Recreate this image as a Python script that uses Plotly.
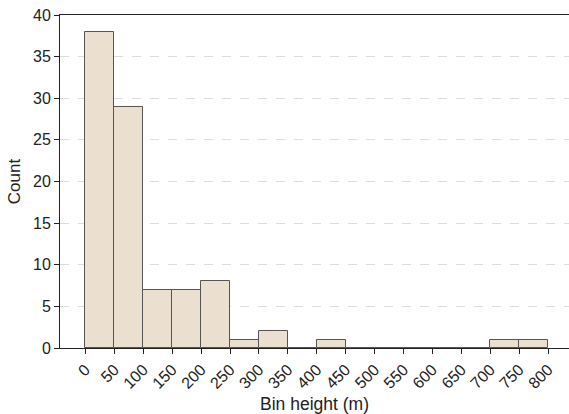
import plotly.graph_objects as go

bin_left = [0, 50, 100, 150, 200, 250, 300, 350, 400, 450, 500, 550, 600, 650, 700, 750]
counts = [38, 29, 7, 7, 8, 1, 2, 0, 1, 0, 0, 0, 0, 0, 1, 1]
bin_width = 50
x_ticks = list(range(0, 801, 50))
y_ticks = [0, 5, 10, 15, 20, 25, 30, 35, 40]

centers = [b + bin_width / 2 for b in bin_left]

fig = go.Figure(go.Bar(
    x=centers, y=counts, width=[bin_width] * len(counts),
    marker=dict(color="#EBE0D0", line=dict(color="#555555", width=1)),
))

fig.update_layout(
    width=569, height=414,
    margin=dict(l=60, r=0, t=15, b=66, autoexpand=False),
    plot_bgcolor="white", paper_bgcolor="white",
    font=dict(family="Liberation Sans, Arial, sans-serif", size=16, color="#222222"),
    showlegend=False, bargap=0,
)
fig.update_xaxes(
    range=[-44, 836], tickvals=x_ticks, ticktext=[str(t) for t in x_ticks],
    tickangle=-45, ticks="outside", ticklen=5, tickcolor="#222222",
    showline=True, linecolor="#222222", linewidth=1, mirror=True,
    showgrid=False, zeroline=False, automargin=False,
    title=dict(text="Bin height (m)", font=dict(size=17.5), standoff=10),
)
fig.update_yaxes(
    range=[0, 40], tickvals=y_ticks, ticks="outside", ticklen=5, tickcolor="#222222",
    showline=True, linecolor="#222222", linewidth=1,
    showgrid=True, gridcolor="#dddddd", griddash="dash", gridwidth=1,
    zeroline=False, automargin=False,
    title=dict(text="Count", font=dict(size=17), standoff=8),
)

fig.write_html(
    "out.html",
    config={"displayModeBar": False},
    post_script="document.body.style.margin='0';document.body.style.overflow='hidden';",
)
